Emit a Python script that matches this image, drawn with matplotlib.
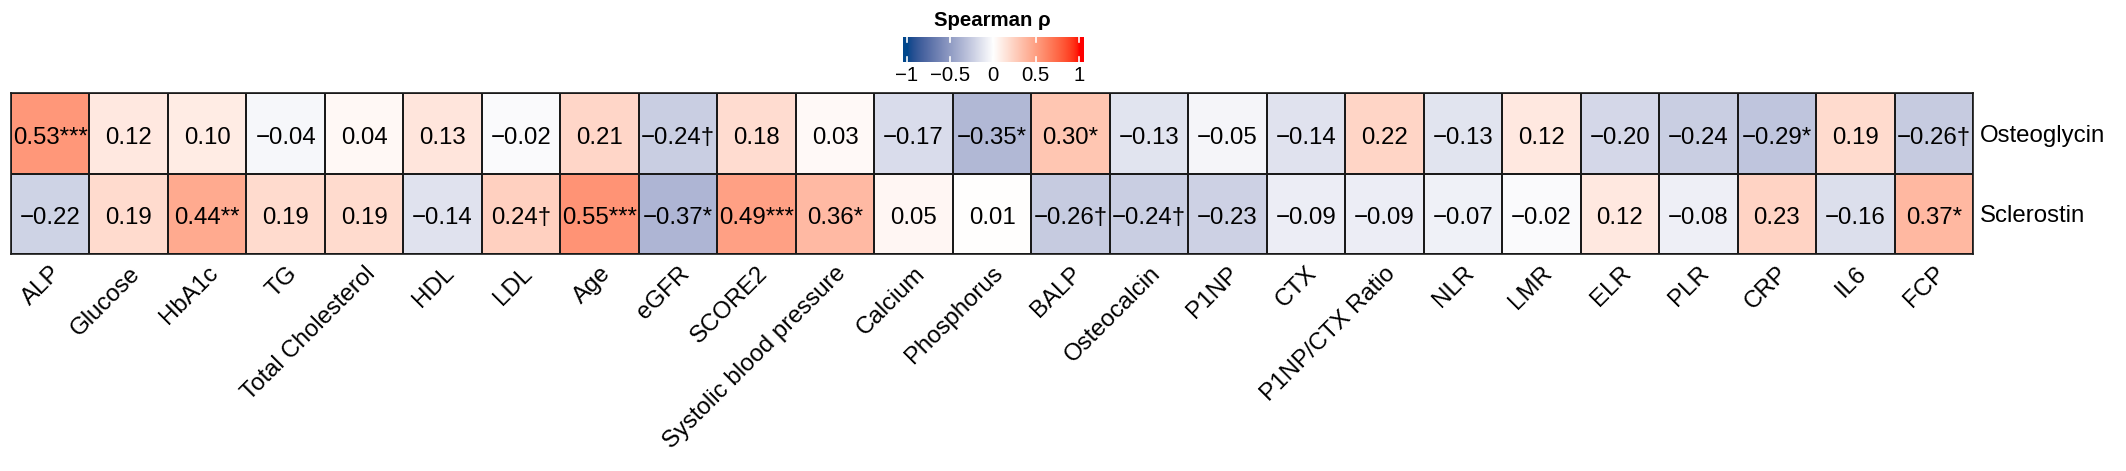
import numpy as np
import matplotlib
matplotlib.use("Agg")
import matplotlib.pyplot as plt
from matplotlib.colors import ListedColormap, Normalize

# ─────────────────────────────────────────────
# 0. 数据
# ─────────────────────────────────────────────
variables = ["ALP", "Glucose", "HbA1c", "TG", "Total Cholesterol", "HDL", "LDL",
             "Age", "eGFR", "SCORE2", "Systolic blood pressure", "Calcium",
             "Phosphorus", "BALP", "Osteocalcin", "P1NP", "CTX", "P1NP/CTX Ratio",
             "NLR", "LMR", "ELR", "PLR", "CRP", "IL6", "FCP"]
proteins = ["Osteoglycin", "Sclerostin"]

rho_osteoglycin = [0.53, 0.12, 0.10, -0.04, 0.04, 0.13, -0.02, 0.21, -0.24, 0.18,
                   0.03, -0.17, -0.35, 0.30, -0.13, -0.05, -0.14, 0.22, -0.13, 0.12,
                   -0.20, -0.24, -0.29, 0.19, -0.26]
sig_osteoglycin = ["***", "", "", "", "", "", "", "", "†", "",
                   "", "", "*", "*", "", "", "", "", "", "",
                   "", "", "*", "", "†"]

rho_sclerostin = [-0.22, 0.19, 0.44, 0.19, 0.19, -0.14, 0.24, 0.55, -0.37, 0.49,
                  0.36, 0.05, 0.01, -0.26, -0.24, -0.23, -0.09, -0.09, -0.07, -0.02,
                  0.12, -0.08, 0.23, -0.16, 0.37]
sig_sclerostin = ["", "", "**", "", "", "", "†", "***", "*", "***",
                  "*", "", "", "†", "†", "", "", "", "", "",
                  "", "", "", "", "*"]

cbar_ticks = [-1, -0.5, 0, 0.5, 1]

rho = np.array([rho_osteoglycin, rho_sclerostin])
sig = [sig_osteoglycin, sig_sclerostin]

FONT = ["Liberation Sans", "DejaVu Sans"]
plt.rcParams.update({
    "font.family": FONT,
    "axes.unicode_minus": True,
})


# ─────────────────────────────────────────────
# 1. 色带：low -> white -> high，Lab 空间插值
# ─────────────────────────────────────────────
def srgb_to_lab(rgb):
    rgb = np.asarray(rgb, float)
    lin = np.where(rgb <= 0.04045, rgb / 12.92, ((rgb + 0.055) / 1.055) ** 2.4)
    M = np.array([[0.4124, 0.3576, 0.1805],
                  [0.2126, 0.7152, 0.0722],
                  [0.0193, 0.1192, 0.9505]])
    xyz = lin @ M.T / np.array([0.95047, 1.0, 1.08883])
    f = np.where(xyz > 0.008856, np.cbrt(xyz), 7.787 * xyz + 16 / 116)
    L = 116 * f[..., 1] - 16
    a = 500 * (f[..., 0] - f[..., 1])
    b = 200 * (f[..., 1] - f[..., 2])
    return np.stack([L, a, b], -1)


def lab_to_srgb(lab):
    L, a, b = lab[..., 0], lab[..., 1], lab[..., 2]
    fy = (L + 16) / 116
    fx = fy + a / 500
    fz = fy - b / 200
    f = np.stack([fx, fy, fz], -1)
    xyz = np.where(f ** 3 > 0.008856, f ** 3, (f - 16 / 116) / 7.787)
    xyz = xyz * np.array([0.95047, 1.0, 1.08883])
    Minv = np.array([[3.2406, -1.5372, -0.4986],
                     [-0.9689, 1.8758, 0.0415],
                     [0.0557, -0.2040, 1.0570]])
    lin = xyz @ Minv.T
    lin = np.clip(lin, 0, 1)
    rgb = np.where(lin <= 0.0031308, 12.92 * lin, 1.055 * lin ** (1 / 2.4) - 0.055)
    return np.clip(rgb, 0, 1)


low = np.array([0x00, 0x46, 0x8B]) / 255
mid = np.array([1.0, 1.0, 1.0])
high = np.array([1.0, 0.0, 0.0])
lab_low, lab_mid, lab_high = srgb_to_lab(low), srgb_to_lab(mid), srgb_to_lab(high)
t = np.linspace(0, 1, 128)[:, None]
half1 = lab_low + (lab_mid - lab_low) * t
half2 = lab_mid + (lab_high - lab_mid) * t
cmap = ListedColormap(lab_to_srgb(np.vstack([half1, half2[1:]])))
norm = Normalize(-1, 1)

# ─────────────────────────────────────────────
# 2. 热图
# ─────────────────────────────────────────────
W, H = 2126, 471
fig = plt.figure(figsize=(W / 100, H / 100), dpi=100)

x0, x1, y0, y1 = 11, 1973, 93, 254
ax = fig.add_axes([x0 / W, 1 - y1 / H, (x1 - x0) / W, (y1 - y0) / H])
ncol, nrow = len(variables), len(proteins)
ax.pcolormesh(np.arange(ncol + 1), np.arange(nrow + 1), rho, cmap=cmap, norm=norm,
              edgecolors="#1a1a1a", linewidth=1.2)
ax.set_xlim(0, ncol)
ax.set_ylim(nrow, 0)

for i in range(nrow):
    for j in range(ncol):
        txt = f"{rho[i, j]:.2f}".replace("-", "\u2212") + sig[i][j]
        ax.text(j + 0.5, i + 0.5 + 0.128, txt, ha="center", va="baseline",
                fontsize=17.3, color="black")

ax.set_xticks(np.arange(ncol) + 0.5)
ax.set_xticklabels(variables, rotation=45, ha="right", va="top",
                   rotation_mode="anchor", fontsize=17.3)
ax.set_yticks(np.arange(nrow) + 0.5)
ax.set_yticklabels(proteins, fontsize=17.3)
ax.yaxis.tick_right()
ax.tick_params(axis="x", length=0, pad=6)
ax.tick_params(axis="y", length=0, pad=5)
for s in ax.spines.values():
    s.set_linewidth(1.2)
    s.set_color("#1a1a1a")

# ─────────────────────────────────────────────
# 3. 色条
# ─────────────────────────────────────────────
cx0, cx1, cy0, cy1 = 902.7, 1083, 36.7, 61.7
cax = fig.add_axes([cx0 / W, 1 - cy1 / H, (cx1 - cx0) / W, (cy1 - cy0) / H])
lo, hi = -1.05, 1.05
grad = np.linspace(lo, hi, 400)[None, :]
cax.imshow(grad, cmap=cmap, norm=norm, aspect="auto", extent=[lo, hi, 0, 1])
cax.set_xlim(lo, hi)
cax.set_ylim(0, 1)
for v in cbar_ticks:
    cax.plot([v, v], [0, 0.2], color="white", lw=1.2)
    cax.plot([v, v], [0.8, 1], color="white", lw=1.2)
cax.set_xticks(cbar_ticks)
cax.set_xticklabels([f"{v:g}".replace("-", "\u2212") for v in cbar_ticks], fontsize=14.7)
cax.tick_params(axis="x", length=0, pad=3)
cax.set_yticks([])
for s in cax.spines.values():
    s.set_visible(False)

fig.text(992 / W, 1 - 21 / H, "Spearman ρ", ha="center", va="center",
         fontsize=14.7, fontweight="bold")

fig.savefig("out.png", dpi=100)
